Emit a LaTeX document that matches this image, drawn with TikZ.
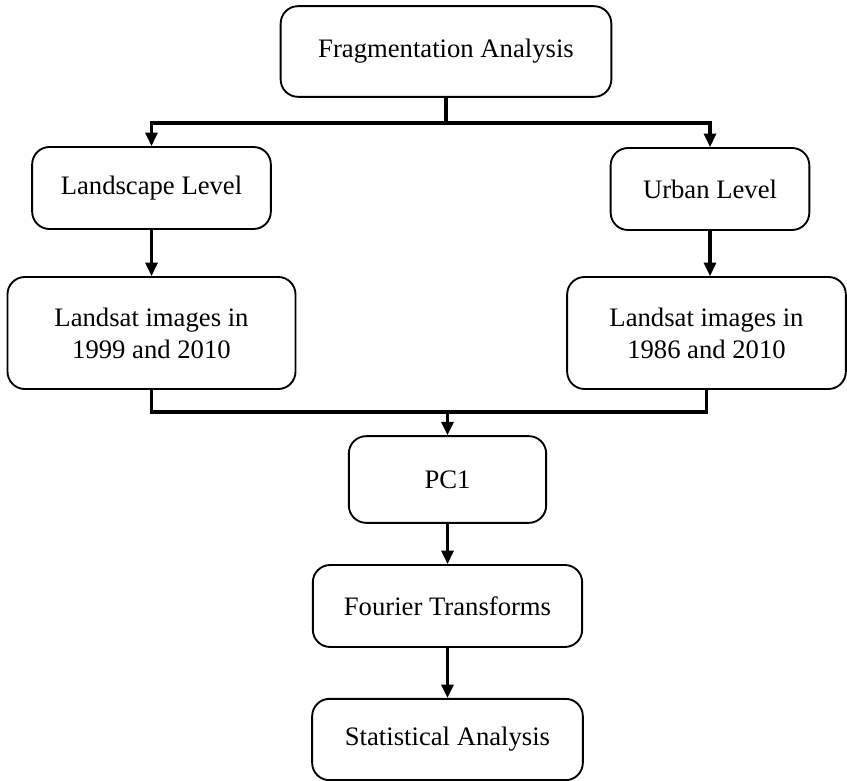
\documentclass[tikz,border=0pt]{standalone}
\usepackage{fontspec}
\setmainfont{Liberation Serif}
\usetikzlibrary{arrows.meta, calc}

\begin{document}
\begin{tikzpicture}[x=0.75pt, y=-0.75pt,
    box/.style={draw, line width=1.4pt, rounded corners=13pt, align=center,
        inner sep=0pt, font=\fontsize{20}{24}\selectfont},
    wire/.style={line width=2.3pt},
    link/.style={wire, -{Triangle[length=10pt,width=9pt]}}]
\useasboundingbox (0,0) rectangle (847,781);
% Boxes
\node[box, minimum width=248pt, minimum height=68pt] (frag) at (446,51.5) {Fragmentation Analysis};
\node[box, minimum width=179pt, minimum height=61.5pt] (landscape) at (151.5,188) {Landscape Level};
\node[box, minimum width=149pt, minimum height=61.5pt] (urban) at (710,189) {Urban Level};
\node[box, minimum width=216pt, minimum height=84pt] (lsL) at (151.5,333) {Landsat images in\\1999 and 2010};
\node[box, minimum width=209pt, minimum height=84pt] (lsR) at (706.5,333) {Landsat images in\\1986 and 2010};
\node[box, minimum width=148pt, minimum height=65pt] (pc1) at (447.5,479.5) {PC1};
\node[box, minimum width=202pt, minimum height=61.5pt] (fourier) at (447.5,606) {Fourier Transforms};
\node[box, minimum width=203pt, minimum height=61pt] (stat) at (447.5,739.5) {Statistical Analysis};
% Split and merge
\coordinate (split) at (446,123);
\coordinate (merge) at (447.5,412);
\draw[wire] (frag.south) -- (split);
\draw[link] (split) -| (landscape.north);
\draw[link] (split) -| (urban.north);
\draw[link] (landscape) -- (lsL);
\draw[link] (urban.south) -- (urban.south |- lsR.north);
\draw[wire] (lsL.south) |- (merge);
\draw[wire] (lsR.south) |- (merge);
\draw[link] (merge) -- (pc1);
% Chain
\foreach \a/\b in {pc1/fourier, fourier/stat}
    \draw[link] (\a) -- (\b);
\end{tikzpicture}
\end{document}
